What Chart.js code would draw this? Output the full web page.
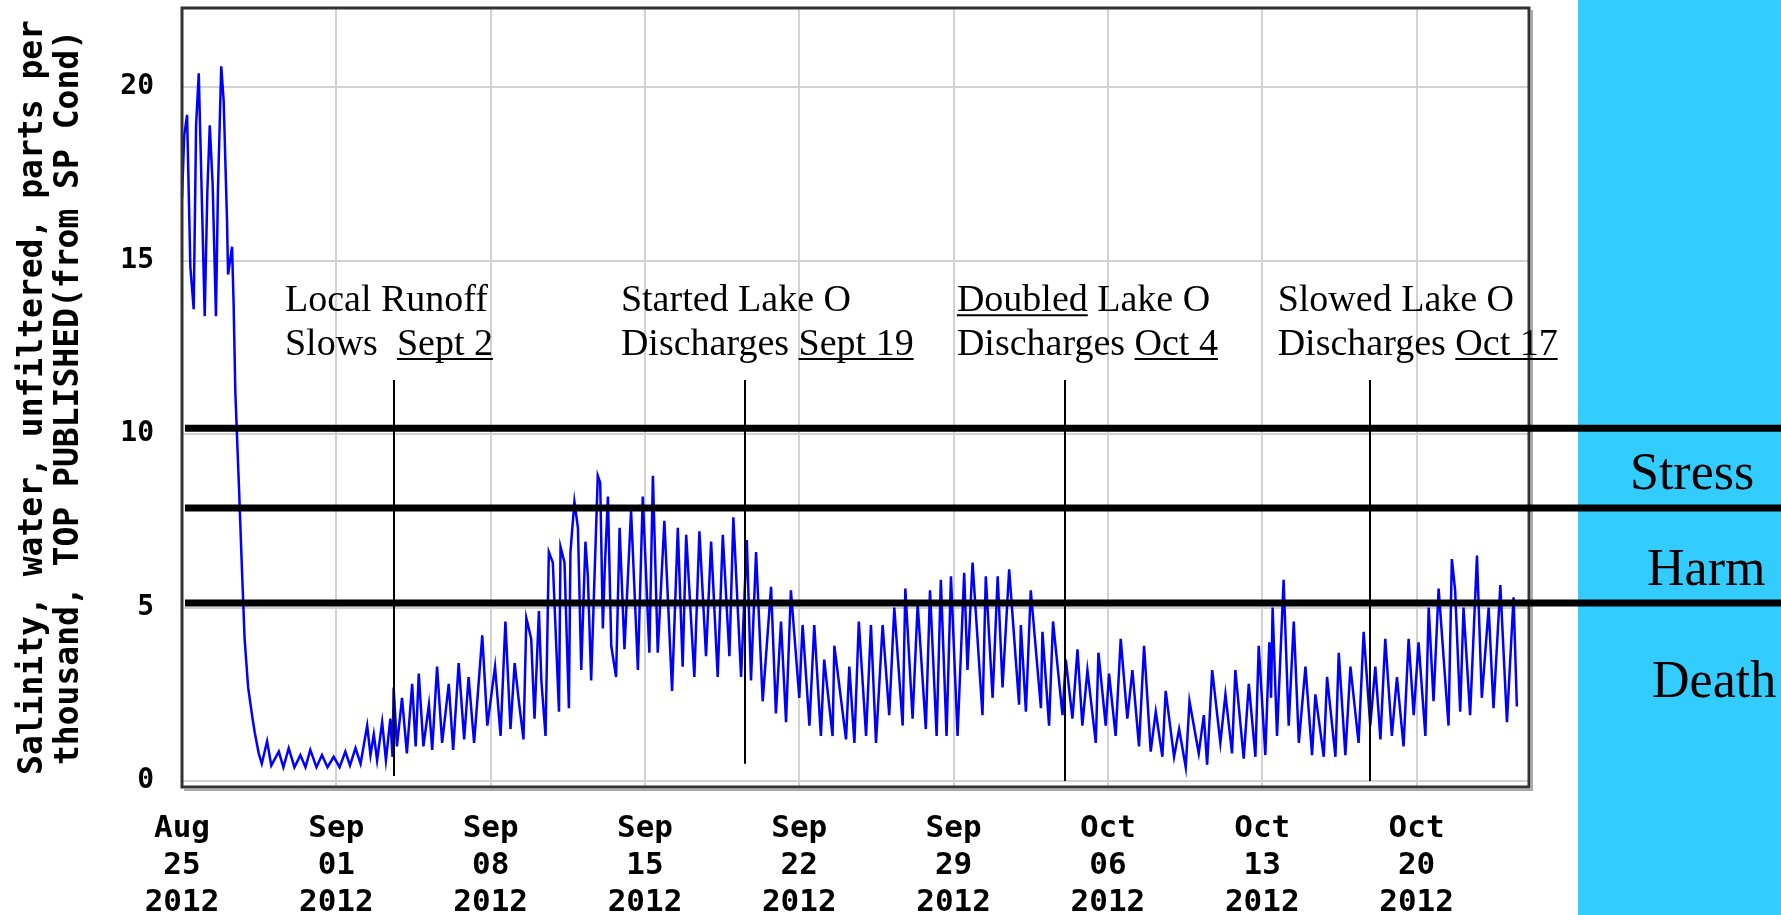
<!DOCTYPE html>
<html>
<head>
<meta charset="utf-8">
<script src="https://cdn.jsdelivr.net/npm/chart.js@4/dist/chart.umd.min.js"></script>
<style>
    html, body { margin: 0; padding: 0; background: #fff; }
    canvas { display: block; }
</style>
</head>
<body>
<canvas id="salinityChart" width="1781" height="915"></canvas>
<script>
// days after Aug 25 2012 00:00, one point per high / low
var days = [
    0.00, 0.10, 0.23, 0.38, 0.53, 0.64, 0.76, 0.83, 1.03, 1.15, 1.26, 1.39, 1.54, 1.63, 1.78, 1.89,
    2.04, 2.09, 2.27, 2.34, 2.42, 2.60, 2.72, 2.84, 3.00, 3.20, 3.30, 3.48, 3.62, 3.86, 4.05, 4.39,
    4.60, 4.84, 5.10, 5.37, 5.60, 5.82, 6.10, 6.35, 6.60, 6.88, 7.15, 7.41, 7.62, 7.87, 8.10, 8.40,
    8.55, 8.70, 8.85, 9.08, 9.25, 9.45, 9.55, 9.60, 9.75, 9.98, 10.20, 10.44, 10.60, 10.74, 10.95, 11.20,
    11.35, 11.57, 11.80, 12.10, 12.30, 12.55, 12.80, 13.00, 13.25, 13.62, 13.85, 14.20, 14.45, 14.67, 14.90,
    15.09, 15.28, 15.49, 15.62, 15.84, 15.99, 16.19, 16.30, 16.49, 16.64, 16.82, 17.10, 17.17, 17.35, 17.55,
    17.62, 17.80, 17.96, 18.11, 18.30, 18.41, 18.56, 18.86, 18.97, 19.09, 19.17, 19.32, 19.47, 19.69, 19.85,
    20.07, 20.37, 20.68, 20.90, 21.20, 21.36, 21.58, 21.88, 22.23, 22.49, 22.71, 22.87, 23.24, 23.47, 23.77,
    24.00, 24.30, 24.53, 24.83, 25.01, 25.36, 25.62, 25.81, 26.04, 26.34, 26.72, 26.94, 27.17, 27.40, 27.62,
    28.00, 28.15, 28.46, 28.68, 28.98, 29.13, 29.51, 29.59, 30.12, 30.27, 30.50, 30.70,
    31.03, 31.25, 31.48, 31.78, 32.08, 32.31, 32.69, 32.81, 33.14, 33.37, 33.74, 33.93, 34.23, 34.42, 34.68,
    34.88, 35.18, 35.48, 35.63, 35.86, 36.31, 36.46, 36.77, 37.00, 37.22, 37.52, 37.97, 38.05, 38.28, 38.50,
    38.96, 39.03, 39.33, 39.51, 39.94, 40.09, 40.39, 40.62, 40.84, 41.07, 41.45, 41.57, 41.90, 42.05, 42.35,
    42.58, 42.88, 43.11, 43.41, 43.64, 43.94, 44.17, 44.47, 44.62, 45.00, 45.23, 45.53, 45.70,
    46.12, 46.35, 46.50, 46.73, 47.10, 47.33, 47.63, 47.78, 48.16, 48.39, 48.69, 48.84, 49.14, 49.32, 49.40,
    49.47, 49.67, 49.97, 50.20, 50.43, 50.66, 50.96, 51.26, 51.41, 51.79, 51.94, 52.32, 52.47, 52.77, 53.00,
    53.37, 53.60, 53.90, 54.13, 54.36, 54.58, 54.88, 55.11, 55.41, 55.64, 55.87, 56.09, 56.40, 56.55, 56.77,
    57.00, 57.45, 57.60, 57.75, 57.98, 58.13, 58.43, 58.74, 58.96, 59.27, 59.49, 59.80, 60.10, 60.40, 60.55
];
var salinity = [
    16.8, 18.6, 19.2, 14.8, 13.6, 18.9, 20.4, 18.6, 13.4, 17.0, 18.9, 17.2, 13.4, 17.0, 20.6, 19.6,
    16.2, 14.6, 15.4, 13.8, 11.2, 8.2, 6.1, 4.1, 2.7, 1.8, 1.4, 0.8, 0.5, 1.15, 0.45, 0.85,
    0.4, 0.95, 0.4, 0.75, 0.4, 0.9, 0.4, 0.75, 0.4, 0.7, 0.4, 0.85, 0.45, 0.95, 0.5, 1.6,
    0.75, 1.35, 0.6, 1.7, 0.6, 1.8, 0.7, 2.7, 1.0, 2.4, 0.8, 2.8, 1.0, 3.1, 1.0, 2.2,
    0.9, 3.3, 1.1, 2.8, 0.9, 3.4, 1.2, 3.0, 1.1, 4.2, 1.6, 3.3, 1.3, 4.6, 1.5,
    3.4, 2.3, 1.2, 4.7, 4.1, 1.8, 4.9, 2.9, 1.3, 6.6, 6.3, 2.0, 6.75, 6.3, 2.1,
    6.6, 8.05, 7.3, 3.2, 6.9, 5.9, 2.9, 8.8, 8.6, 4.4, 6.0, 8.2, 3.9, 3.0, 7.3,
    3.8, 7.8, 3.2, 8.2, 3.7, 8.8, 3.7, 7.5, 2.6, 7.3, 3.3, 7.1, 3.0, 7.2, 3.6,
    6.9, 3.0, 7.1, 3.6, 7.6, 3.0, 6.95, 2.9, 6.6, 2.3, 5.6, 1.95, 4.6, 1.7, 5.5,
    2.4, 4.5, 1.6, 4.5, 1.3, 3.5, 1.3, 3.9, 1.2, 3.3, 1.1, 4.6,
    1.3, 4.5, 1.1, 4.5, 1.9, 5.0, 1.6, 5.55, 1.8, 5.1, 1.5, 5.5, 1.3, 5.8, 1.3,
    5.9, 1.3, 6.0, 3.2, 6.3, 1.9, 5.9, 2.4, 5.9, 2.7, 6.1, 2.2, 4.5, 2.0, 5.5,
    2.1, 4.3, 1.6, 4.6, 1.9, 3.5, 1.8, 3.8, 1.6, 3.2, 1.1, 3.7, 1.6, 3.1, 1.3,
    4.1, 1.8, 3.2, 1.0, 3.9, 0.85, 2.0, 0.7, 2.6, 0.7, 1.5, 0.4, 2.3,
    0.8, 1.9, 0.47, 3.2, 1.1, 2.5, 0.8, 3.2, 0.65, 2.8, 0.7, 3.9, 0.75, 4.0, 2.4,
    5.0, 1.3, 5.8, 1.6, 4.6, 1.1, 3.3, 0.75, 2.5, 0.7, 3.0, 0.7, 3.7, 0.75, 3.3,
    1.1, 4.3, 1.6, 3.3, 1.2, 4.1, 1.3, 3.0, 1.0, 4.1, 1.9, 4.0, 1.3, 5.0, 2.3,
    5.55, 1.6, 6.4, 5.5, 2.0, 5.0, 1.9, 6.5, 2.4, 5.0, 2.1, 5.65, 1.7, 5.3, 2.15
];

var tickDays = [0, 7, 14, 21, 28, 35, 42, 49, 56];
var tickMonth = ['Aug', 'Sep', 'Sep', 'Sep', 'Sep', 'Sep', 'Oct', 'Oct', 'Oct'];
var tickDate = ['25', '01', '08', '15', '22', '29', '06', '13', '20'];
var tickYear = ['2012', '2012', '2012', '2012', '2012', '2012', '2012', '2012', '2012'];
var yTicks = [0, 5, 10, 15, 20];

var yTitle = ['Salinity, water, unfiltered, parts per', 'thousand, TOP PUBLISHED(from SP Cond)'];

// stress / harm / death thresholds
var zoneLines = [10.17, 7.87, 5.13];
var zoneNames = ['Stress', 'Harm', 'Death'];
var zoneLabelY = [8.41, 5.65, 2.42];

// discharge events
var eventDays = [9.6, 25.55, 40.05, 53.87];
var eventTop = 11.56;
var eventBottom = [0.15, 0.5, 0, 0];
var eventTextDay = [4.67, 19.91, 35.15, 49.7];
var eventTextY = [13.54, 12.28];
var eventText = [
    [[['Local Runoff', false]], [['Slows  ', false], ['Sept 2', true]]],
    [[['Started Lake O', false]], [['Discharges ', false], ['Sept 19', true]]],
    [[['Doubled', true], [' Lake O', false]], [['Discharges ', false], ['Oct 4', true]]],
    [[['Slowed Lake O', false]], [['Discharges ', false], ['Oct 17', true]]]
];

var points = days.map(function (d, i) {
    return { x: d, y: salinity[i] };
});

function drawRich(ctx, x, y, parts) {
    parts.forEach(function (p) {
        var w = ctx.measureText(p[0]).width;
        ctx.fillText(p[0], x, y);
        if (p[1]) {
            ctx.beginPath();
            ctx.lineWidth = 2;
            ctx.moveTo(x, y + 4);
            ctx.lineTo(x + w, y + 4);
            ctx.stroke();
        }
        x += w;
    });
}

var backdrop = {
    id: 'backdrop',
    beforeDraw: function (chart) {
        var ctx = chart.ctx;
        ctx.save();
        ctx.fillStyle = '#33ccff';
        ctx.fillRect(1578, 0, chart.width - 1578, chart.height);
        ctx.restore();
    }
};

var overlay = {
    id: 'overlay',
    afterDatasetsDraw: function (chart) {
        var ctx = chart.ctx;
        var area = chart.chartArea;
        var xs = chart.scales.x;
        var ys = chart.scales.y;
        ctx.save();

        // plot frame
        ctx.strokeStyle = '#aaa';
        ctx.lineWidth = 2;
        ctx.beginPath();
        ctx.moveTo(area.right + 3, area.top + 2);
        ctx.lineTo(area.right + 3, area.bottom + 3);
        ctx.lineTo(area.left + 2, area.bottom + 3);
        ctx.stroke();
        ctx.strokeStyle = '#333';
        ctx.lineWidth = 3;
        ctx.strokeRect(area.left, area.top, area.right - area.left, area.bottom - area.top);

        ctx.strokeStyle = '#000';
        ctx.lineWidth = 2;
        eventDays.forEach(function (d, i) {
            var px = Math.round(xs.getPixelForValue(d));
            ctx.beginPath();
            ctx.moveTo(px, ys.getPixelForValue(eventTop));
            ctx.lineTo(px, ys.getPixelForValue(eventBottom[i]));
            ctx.stroke();
        });

        ctx.lineWidth = 7;
        zoneLines.forEach(function (v) {
            var py = ys.getPixelForValue(v);
            ctx.beginPath();
            ctx.moveTo(area.left + 3, py);
            ctx.lineTo(chart.width, py);
            ctx.stroke();
        });

        ctx.fillStyle = '#000';
        ctx.font = '38px "Liberation Serif"';
        ctx.textBaseline = 'alphabetic';
        ctx.textAlign = 'left';
        eventText.forEach(function (lines, i) {
            var tx = xs.getPixelForValue(eventTextDay[i]);
            lines.forEach(function (parts, j) {
                drawRich(ctx, tx, ys.getPixelForValue(eventTextY[j]), parts);
            });
        });

        ctx.font = '52px "Liberation Serif"';
        var zoneX = [1630, 1647, 1652];
        zoneNames.forEach(function (name, i) {
            ctx.fillText(name, zoneX[i], ys.getPixelForValue(zoneLabelY[i]));
        });

        // y axis title
        ctx.font = 'bold 33px "DejaVu Sans Mono"';
        ctx.textAlign = 'center';
        var cy = (area.top + area.bottom) / 2;
        [42, 78].forEach(function (bx, i) {
            ctx.save();
            ctx.translate(bx, cy);
            ctx.rotate(-Math.PI / 2);
            ctx.fillText(yTitle[i], 0, 0);
            ctx.restore();
        });
        ctx.restore();
    }
};

var ctx = document.getElementById('salinityChart').getContext('2d');
var salinityChart = new Chart(ctx, {
    type: 'line',
    data: {
        datasets: [{
            data: points,
            borderColor: '#0000ff',
            borderWidth: 2.5,
            pointRadius: 0,
            tension: 0,
            fill: false
        }]
    },
    options: {
        responsive: false,
        animation: false,
        layout: { padding: { left: 0, top: 8, right: 252, bottom: 0 } },
        plugins: {
            legend: { display: false },
            tooltip: { enabled: false }
        },
        scales: {
            x: {
                type: 'linear',
                min: 0,
                max: 61.1,
                afterBuildTicks: function (axis) {
                    axis.ticks = tickDays.map(function (v) { return { value: v }; });
                },
                afterFit: function (axis) {
                    axis.height = 128;
                    axis.paddingLeft = 0;
                    axis.paddingRight = 0;
                },
                grid: { color: '#d2d2d2', lineWidth: 2, drawTicks: false },
                border: { display: false },
                ticks: {
                    autoSkip: false,
                    maxRotation: 0,
                    minRotation: 0,
                    padding: 24,
                    color: '#000',
                    font: { family: 'DejaVu Sans Mono', size: 31, weight: 'bold', lineHeight: 1.19 },
                    callback: function (value) {
                        var k = tickDays.indexOf(value);
                        return [tickMonth[k], tickDate[k], tickYear[k]];
                    }
                }
            },
            y: {
                min: -0.17,
                max: 22.28,
                afterBuildTicks: function (axis) {
                    axis.ticks = yTicks.map(function (v) { return { value: v }; });
                },
                afterFit: function (axis) {
                    axis.width = 182;
                    axis.paddingTop = 0;
                    axis.paddingBottom = 0;
                },
                grid: { color: '#d2d2d2', lineWidth: 2, drawTicks: false },
                border: { display: false },
                ticks: {
                    padding: 28,
                    color: '#000',
                    font: { family: 'DejaVu Sans Mono', size: 28, weight: 'bold' }
                }
            }
        }
    },
    plugins: [backdrop, overlay]
});
</script>
</body>
</html>
